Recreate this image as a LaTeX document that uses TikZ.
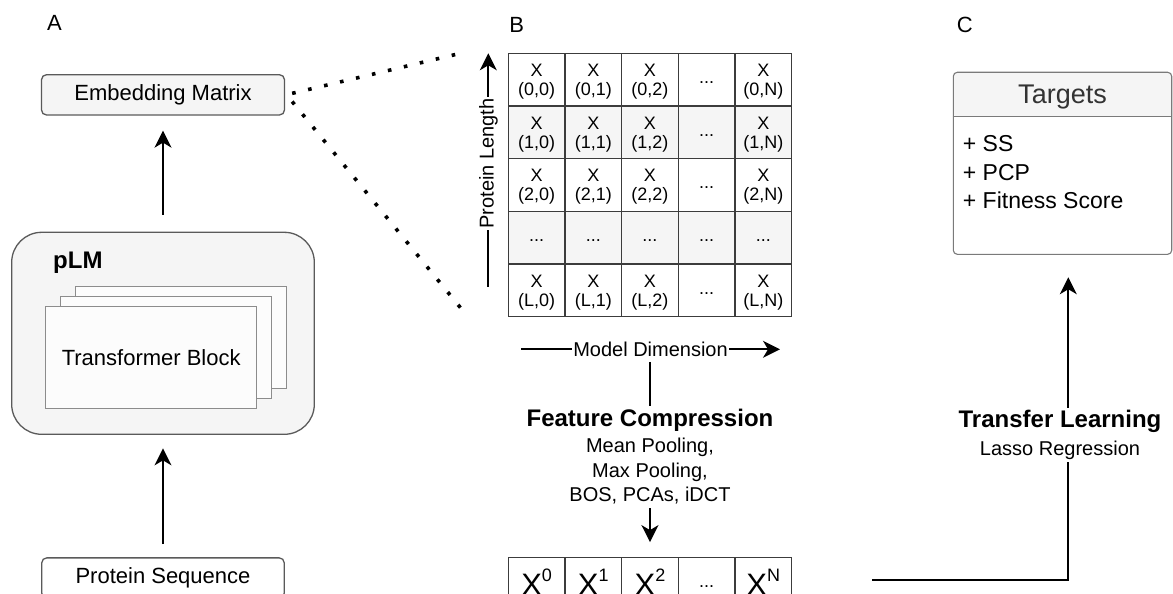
\documentclass[tikz,border=0pt]{standalone}
\usepackage{fontspec}
\setmainfont{Liberation Sans}
\usetikzlibrary{arrows.meta}
\newcommand\fsz[2]{\fontsize{#1pt}{#2pt}\selectfont}
\newcommand\vx[1]{X\raisebox{14.5pt}{\fsz{18}{18}#1}}
\definecolor{bstroke}{HTML}{5A5A5A}
\definecolor{bfill}{HTML}{F5F5F5}
\definecolor{tstroke}{HTML}{8C8C8C}
\definecolor{tfill}{HTML}{FCFCFC}
\definecolor{gstroke}{HTML}{3C3C3C}
\definecolor{ttext}{HTML}{333333}
\definecolor{kstroke}{HTML}{7A7A7A}
\begin{document}
\begin{tikzpicture}[x=1pt,y=-1pt,
  arr/.style={line width=1.8pt,-{Stealth[length=17pt,width=17pt,inset=5pt]}},
  dotline/.style={line width=3.6pt,dash pattern=on 3.6pt off 12.8pt},
  panel/.style={font=\fsz{22}{26},anchor=base,inner sep=0pt},
  rbox/.style={draw=bstroke,line width=1.3pt,rounded corners=5pt,inner sep=0pt,font=\fsz{22}{26}},
  tblock/.style={draw=tstroke,fill=tfill,line width=1.1pt,minimum width=211pt,minimum height=101.7pt,inner sep=0pt,font=\fsz{22}{26}},
  cell/.style={draw=gstroke,line width=1.1pt,minimum width=56.67pt,minimum height=52.67pt,inner sep=0pt,align=center,font=\fsz{18}{19}},
  axislbl/.style={fill=white,inner sep=1.5pt,font=\fsz{20}{24}},
]
\useasboundingbox (0,0) rectangle (1173,594);
\clip (0,0) rectangle (1173,594);

% ---------- Panel A ----------
\node[panel] (labA) at (54.5,30.7) {A};
\node[rbox,fill=bfill,minimum width=243pt,minimum height=40.3pt] (emb) at (163,94.85) {Embedding Matrix};
\node[draw=bstroke,fill=bfill,line width=1.3pt,rounded corners=30pt,minimum width=302.6pt,minimum height=202pt,inner sep=0pt] (plm) at (163,333.3) {};
\node[anchor=base west,inner sep=0pt,font=\bfseries\fsz{24}{28}] (plmlbl) at (53,268) {pLM};
\node[tblock] (tb3) at (181,337.4) {};
\node[tblock] (tb2) at (166.2,347.5) {};
\node[tblock] (tb1) at (151.2,357.5) {Transformer Block};
\node[rbox,fill=white,minimum width=242.5pt,minimum height=40.3pt] (prot) at (163,578) {Protein Sequence};

\draw[arr,shorten <=17pt,shorten >=15pt] (plm.north) -- (emb.south);
\draw[arr,shorten <=13pt,shorten >=13.4pt] (prot.north) -- (plm.south);

\coordinate (d1) at (466,52);
\coordinate (d2) at (466,314.5);
\draw[dotline] ([xshift=7pt,yshift=1.5pt]emb.east) -- (d1);
\draw[dotline] ([xshift=7pt,yshift=-6.7pt]emb.east) -- (d2);

% ---------- Panel B ----------
\node[panel] (labB) at (516.7,32.3) {B};
\foreach \r/\rl/\rf in {0/0/white,1/1/bfill,2/2/white,4/L/white}{
  \foreach \c/\cl in {0/0,1/1,2/2,4/N}{
    \node[cell,fill=\rf] (m-\r-\c) at ({536.63+56.67*\c},{79.63+52.67*\r}) {\rule{0pt}{16.3pt}X\\(\rl,\cl)};
  }
  \node[cell,fill=\rf] (m-\r-3) at ({536.63+56.67*3},{79.63+52.67*\r}) {\strut...};
}
\foreach \c in {0,...,4}{
  \node[cell,fill=bfill] (m-3-\c) at ({536.63+56.67*\c},{79.63+52.67*3}) {\strut...};
}

\coordinate (pl0) at (488.3,286.7);
\coordinate (pl1) at (488.3,53.3);
\draw[arr] (pl0) -- (pl1);
\node[axislbl,rotate=90] (pll) at (488.5,163.4) {Protein Length};

\coordinate (md0) at (521,349.3);
\coordinate (md1) at (780,349.3);
\draw[arr] (md0) -- (md1);
\node[axislbl] (mdl) at (650.5,349.3) {Model Dimension};

\foreach \c/\vt in {0/\vx{0},1/\vx{1},2/\vx{2},4/\vx{N}}{
  \node[cell,font=\fsz{31}{31},text height=23pt,text depth=0pt] (v-\c) at ({536.63+56.67*\c},584) {\vt};
}
\node[cell] (v-3) at ({536.63+56.67*3},584) {\strut...};

\draw[arr,shorten <=3.5pt,shorten >=15pt] (mdl.south -| v-2.north) -- (v-2.north);
\node[fill=white,inner sep=3pt,align=center,font=\fsz{20}{24.5}] (fc) at (650,456.7)
  {{\bfseries\fsz{24}{24.5}Feature Compression}\\[2.2pt]Mean Pooling,\\Max Pooling,\\BOS, PCAs, iDCT};

% ---------- Panel C ----------
\node[panel] (labC) at (964.7,32.3) {C};
\node[draw=kstroke,line width=1.1pt,rounded corners=4pt,minimum width=218.4pt,minimum height=182pt,inner sep=0pt,
  path picture={\fill[bfill] (path picture bounding box.north west) rectangle ([yshift=-44.4pt]path picture bounding box.north east);}] (tg) at (1062.5,163.3) {};
\draw[kstroke,line width=1.1pt] ([yshift=-44.4pt]tg.north west) -- ([yshift=-44.4pt]tg.north east);
\node[anchor=base,inner sep=0pt,font=\fsz{27}{30},text=ttext] (tgt) at (1062.5,103.3) {Targets};
\node[anchor=base west,inner sep=0pt,font=\fsz{23}{28}] (it1) at (962.7,151.7) {+ SS};
\node[anchor=base west,inner sep=0pt,font=\fsz{23}{28}] (it2) at (962.7,180) {+ PCP};
\node[anchor=base west,inner sep=0pt,font=\fsz{23}{28}] (it3) at (962.7,208.3) {+ Fitness Score};

\coordinate (ts) at (872,580);
\coordinate (tc) at (1068.3,580);
\draw[arr,shorten >=22.4pt] (ts) -- (tc) -- (tc |- tg.south);
\node[fill=white,inner xsep=0pt,inner ysep=2pt,align=center,font=\fsz{20}{24}] (tl) at (1060,435.2)
  {{\bfseries\fsz{24}{24}Transfer Learning}\\[4.3pt]Lasso Regression};
\end{tikzpicture}
\end{document}
